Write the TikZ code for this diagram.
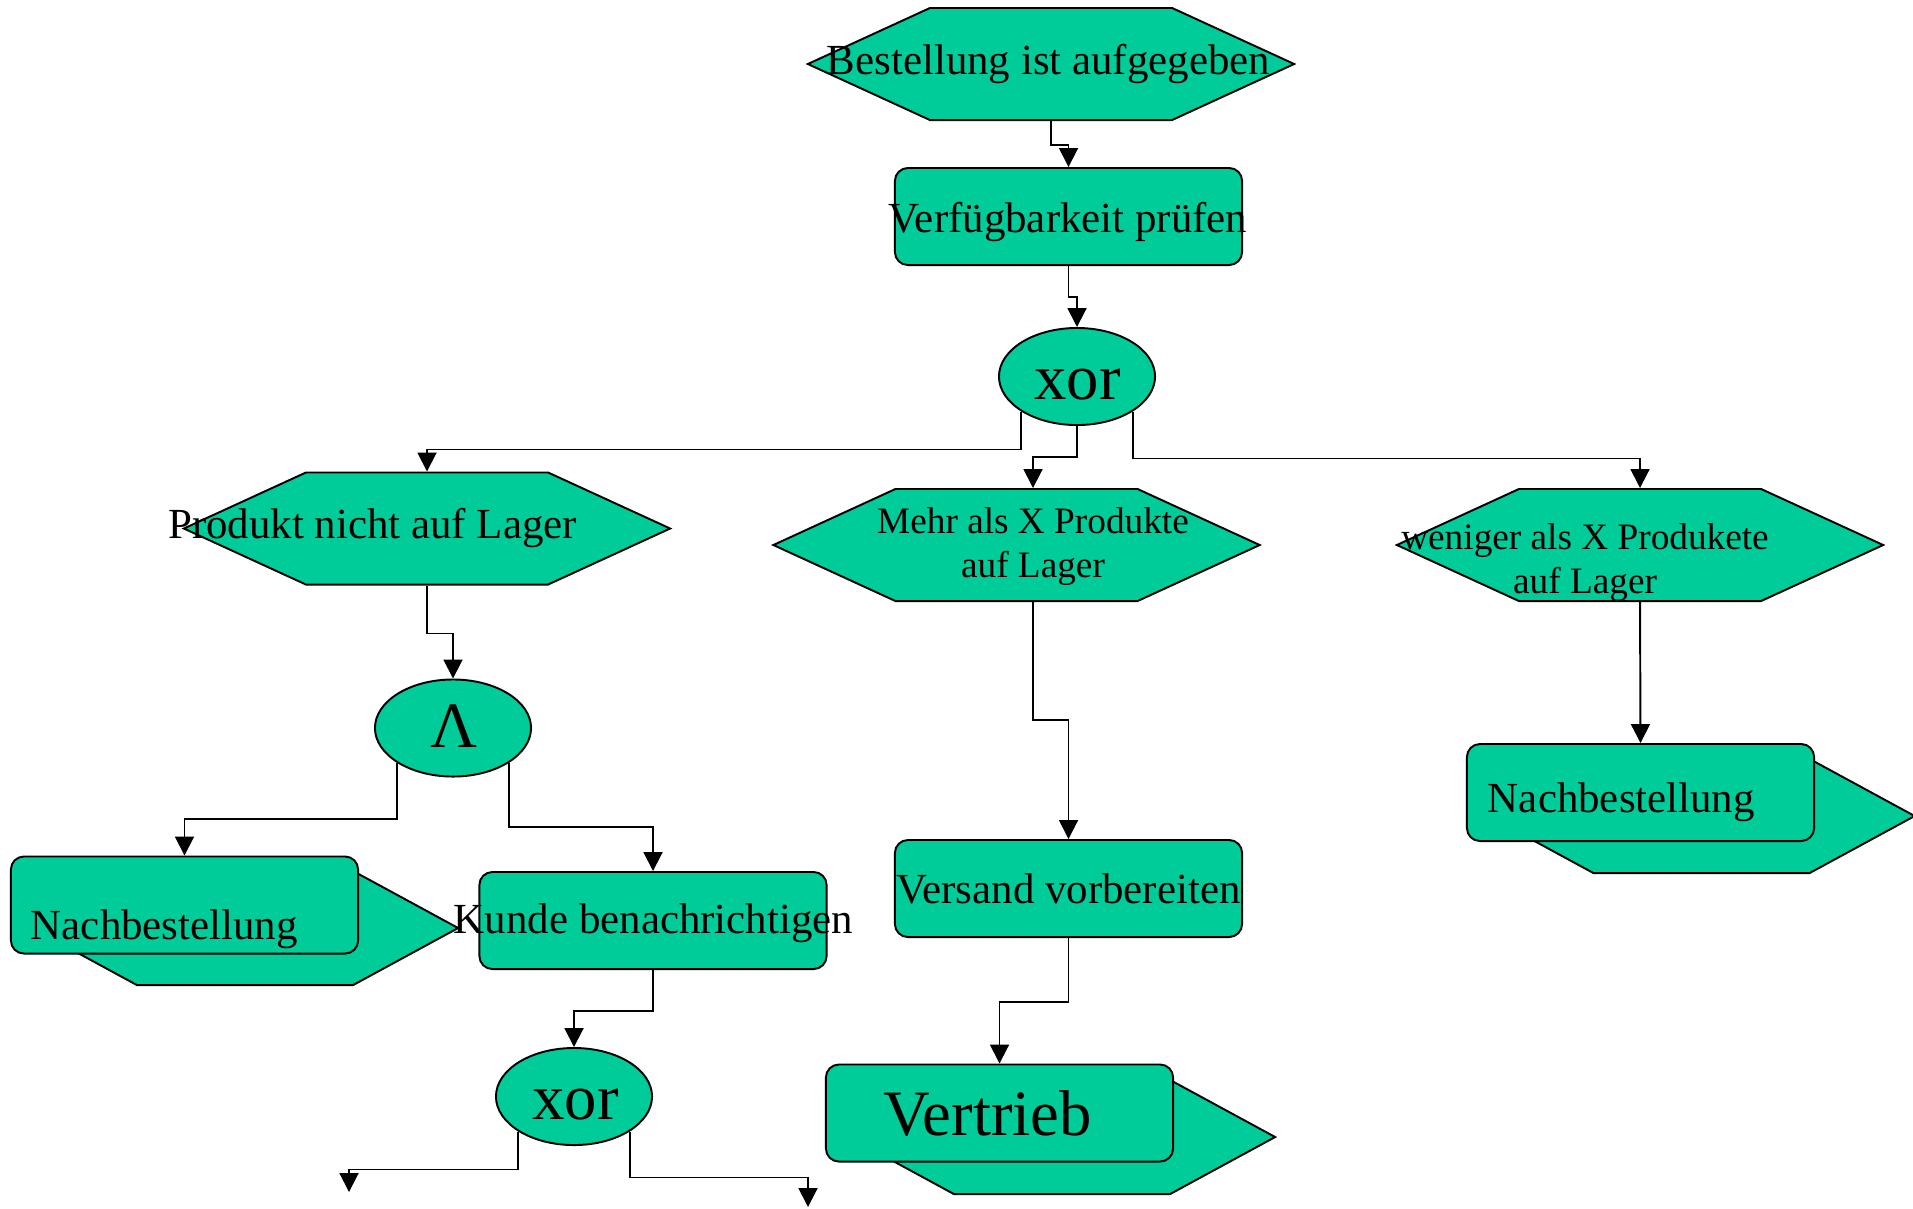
\documentclass[tikz,border=0pt]{standalone}
\usepackage{fontspec}
\setmainfont{Liberation Serif}
\usetikzlibrary{arrows.meta,shapes.geometric,shapes.symbols}
\definecolor{epkgruen}{RGB}{0,204,153}
\tikzset{
  ereignis/.style={signal, signal to=west and east, signal pointer angle=49.3, draw, fill=epkgruen, minimum width=4.86cm, minimum height=1.12cm, inner sep=0pt},
  funktion/.style={rectangle, rounded corners=3.7pt, draw, fill=epkgruen, minimum width=3.47cm, minimum height=0.97cm, inner sep=0pt},
  konnektor/.style={ellipse, draw, fill=epkgruen, minimum width=1.56cm, minimum height=0.97cm, inner sep=0pt},
  wegweiser/.style={signal, signal to=west and east, signal pointer angle=57, draw, fill=epkgruen, minimum width=4.26cm, minimum height=1.14cm, inner sep=0pt},
  txt/.style={inner sep=0pt, font=\fontsize{12.2}{14}\selectfont},
  gross/.style={inner sep=0pt, font=\fontsize{18.4}{21}\selectfont},
  klein/.style={inner sep=0pt, align=center, font=\fontsize{10.6}{12.5}\selectfont}
}
\begin{document}
\begin{tikzpicture}[x=0.01cm, y=-0.01cm, >={Triangle[width=5.4pt,length=5.4pt]}, line width=0.55pt]
\useasboundingbox (0,0) rectangle (1913,1208);
\node[ereignis] (e1) at (1051,64) {};
\node[funktion] (f1) at (1068.5,216.5) {};
\node[konnektor] (x1) at (1077,376.5) {};
\node[ereignis] (e2) at (427,528.5) {};
\node[ereignis] (e3) at (1016.5,545) {};
\node[ereignis] (e4) at (1640,545) {};
\node[konnektor] (a1) at (453,728) {};
\node[wegweiser] (n1w) at (245,928) {};
\node[funktion] (n1) at (184.5,905) {};
\node[funktion] (f2) at (653,920.5) {};
\node[konnektor] (x2) at (574,1096.5) {};
\node[funktion] (f3) at (1068.5,888.5) {};
\node[wegweiser] (n2w) at (1701.5,816) {};
\node[funktion] (n2) at (1640.5,792.5) {};
\node[wegweiser] (n3w) at (1062,1137) {};
\node[funktion] (n3) at (999.5,1113) {};

\node[txt, anchor=base] (e1t) at (1048.5,74) {Bestellung ist aufgegeben};
\node[txt, anchor=base] (f1t) at (1068,232) {Verfügbarkeit prüfen};
\node[gross, anchor=base] (x1t) at (1077.5,399) {xor};
\node[txt, anchor=base] (e2t) at (372.5,538) {Produkt nicht auf Lager};
\node[klein] (e3t) at (1033,546.5) {Mehr als X Produkte\\auf Lager};
\node[klein] (e4t) at (1585,562.5) {weniger als X Produkete\\auf Lager};
\node[gross, anchor=base] (a1t) at (454,747) {Λ};
\node[txt, anchor=base west] (n1t) at (30,939) {Nachbestellung};
\node[txt, anchor=base] (f2t) at (653.5,933) {Kunde benachrichtigen};
\node[gross, anchor=base] (x2t) at (575.5,1119) {xor};
\node[txt, anchor=base] (f3t) at (1068.5,903) {Versand vorbereiten};
\node[txt, anchor=base west] (n2t) at (1487,812) {Nachbestellung};
\node[gross, anchor=base] (n3t) at (987.5,1135) {Vertrieb};

\coordinate (o1) at (349,1192);
\coordinate (o2) at (808,1207);

\draw[->] (e1.south) -- ++(0,24) -| (f1.north);
\draw[->] (f1.south) -- ++(0,31) -| (x1.north);
\draw[->] (x1.south west) -- ++(0,38) -| (e2.north);
\draw[->] (x1.south) -- ++(0,31) -| (e3t |- e3.north);
\draw[->] (x1.south east) -- ++(0,47) -| (e4.north);
\draw[->] (e2.south) -- ++(0,48) -| (a1.north);
\draw[->] (a1.south west) -- ++(0,56) -| (n1.north);
\draw[->] (a1.south east) -- ++(0,64) -| (f2.north);
\draw[->] (f2.south) -- ++(0,41) -| (x2.north);
\draw[->] (x2.south west) -- ++(0,38) -| (o1);
\draw[->] (x2.south east) -- ++(0,46) -| (o2);
\draw[->] (e3t |- e3.south) -- ++(0,118) -| (f3.north);
\draw[->] (e4.south) -- (n2.north);
\draw[->] (f3.south) -- ++(0,64) -| (n3.north);
\end{tikzpicture}
\end{document}
